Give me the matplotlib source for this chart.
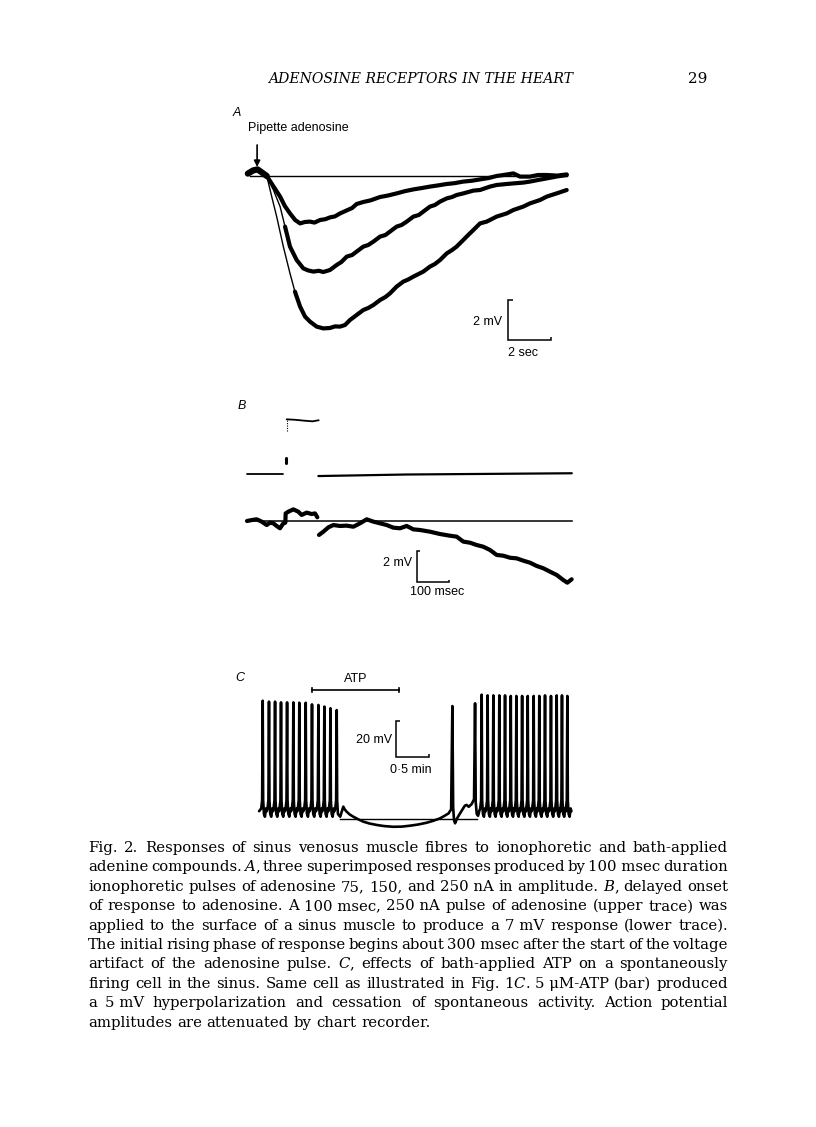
import re
import matplotlib
matplotlib.use("Agg")
import matplotlib.pyplot as plt

W, H, DPI = 816, 1127, 100

# ---------------------------------------------------------------- data
HEADER_TITLE = "ADENOSINE RECEPTORS IN THE HEART"
PAGE_NUMBER = "29"
PANEL_LABELS = ["A", "B", "C"]

# ---- Panel A: responses to 75, 150 and 250 nA pulses (time s, change mV)
A_STIM_LABEL = "Pipette adenosine"
A_STIM_T = 0.33
A_PRE = [(-0.1, 0.12), (0.15, 0.28), (0.35, 0.33), (0.55, 0.18), (0.78, 0.0)]
A_75NA = [(0.78, 0.0), (1.05, -0.45), (1.40, -1.03), (1.62, -1.5), (1.86, -1.87),
          (2.10, -2.2), (2.33, -2.37), (2.55, -2.3), (2.79, -2.28), (3.00, -2.33),
          (3.26, -2.2), (3.50, -2.16), (3.72, -2.07), (3.95, -2.02), (4.19, -1.87),
          (4.50, -1.72), (4.75, -1.6), (4.96, -1.4), (5.27, -1.3), (5.60, -1.22),
          (6.05, -1.05), (6.40, -0.98), (6.82, -0.87), (7.20, -0.76), (7.60, -0.67),
          (8.00, -0.6), (8.37, -0.53), (8.75, -0.47), (9.15, -0.4), (9.50, -0.36),
          (9.92, -0.28), (10.30, -0.24), (10.70, -0.17), (11.10, -0.1), (11.47, 0.0),
          (11.85, 0.06), (12.25, 0.13), (12.56, -0.03), (13.02, -0.03), (13.40, 0.05),
          (13.80, 0.05), (14.30, 0.02), (14.73, 0.08)]
A_150NA = [(0.78, 0.0), (1.09, -0.7), (1.40, -1.53), (1.63, -2.53), (1.86, -3.53),
           (2.17, -4.2), (2.48, -4.62), (2.70, -4.72), (2.95, -4.78), (3.20, -4.74),
           (3.41, -4.8), (3.72, -4.7), (4.03, -4.45), (4.25, -4.3), (4.50, -4.03),
           (4.75, -3.95), (4.96, -3.78), (5.27, -3.53), (5.50, -3.45), (5.74, -3.28),
           (6.05, -3.03), (6.30, -2.95), (6.51, -2.78), (6.82, -2.53), (7.05, -2.45),
           (7.29, -2.28), (7.60, -2.03), (7.85, -1.95), (8.06, -1.78), (8.37, -1.53),
           (8.60, -1.45), (8.84, -1.28), (9.15, -1.12), (9.40, -1.05), (9.61, -0.95),
           (9.92, -0.87), (10.39, -0.73), (10.70, -0.7), (11.16, -0.53), (11.47, -0.45),
           (11.94, -0.4), (12.25, -0.37), (12.71, -0.33), (13.02, -0.28), (13.40, -0.2),
           (13.80, -0.12), (14.30, -0.02), (14.73, 0.05)]
A_250NA = [(0.78, 0.0), (1.01, -1.03), (1.24, -2.03), (1.55, -3.53), (1.86, -4.87),
           (2.09, -5.78), (2.33, -6.53), (2.56, -7.03), (2.79, -7.28), (3.10, -7.53),
           (3.41, -7.62), (3.72, -7.6), (3.95, -7.52), (4.19, -7.53), (4.42, -7.45),
           (4.65, -7.2), (4.96, -6.95), (5.27, -6.7), (5.50, -6.6), (5.74, -6.45),
           (6.05, -6.2), (6.30, -6.05), (6.51, -5.87), (6.82, -5.53), (7.13, -5.28),
           (7.35, -5.18), (7.60, -5.03), (8.06, -4.78), (8.37, -4.53), (8.60, -4.4),
           (8.84, -4.2), (9.15, -3.87), (9.40, -3.7), (9.61, -3.53), (9.92, -3.2),
           (10.15, -2.95), (10.39, -2.7), (10.70, -2.37), (11.01, -2.28), (11.25, -2.15),
           (11.47, -2.03), (11.94, -1.87), (12.25, -1.7), (12.71, -1.53), (13.02, -1.37),
           (13.49, -1.2), (13.80, -1.03), (14.26, -0.87), (14.73, -0.7)]
A_THIN_UNTIL = {"75 nA": 0.0, "150 nA": 1.75, "250 nA": 2.2}
A_BAR_MV, A_BAR_SEC = 2, 2

# ---- Panel B: pulse artifact (upper) and membrane response (lower) (ms, mV)
B_UPPER_LEFT = [(0, 0.0), (113, 0.0)]
B_UPPER_TICK = [(121, 0.7), (121, 1.05)]
B_UPPER_RISE = [(124, 2.8), (124, 3.5)]
B_UPPER_PULSE = [(124, 3.53), (150, 3.5), (180, 3.44), (205, 3.4), (224, 3.47)]
B_UPPER_RIGHT = [(223, -0.13), (500, -0.03), (1015, 0.05)]
B_LOWER = [(0, 0.0), (14.6, 0.06), (30.2, 0.11), (45.8, -0.04), (61.5, -0.26),
           (71.9, -0.11), (82.3, -0.15), (92.7, -0.32), (103.1, -0.47), (113.5, -0.15),
           (119.8, -0.11), (120.8, 0.49), (129.2, 0.6), (144.8, 0.75), (160.4, 0.6),
           (170.8, 0.39), (186.5, 0.54), (202.1, 0.45), (212.5, 0.49), (219.8, 0.24),
           (225.0, -0.9), (238.5, -0.69), (254.2, -0.41), (269.8, -0.26), (290.6, -0.32),
           (311.5, -0.3), (332.3, -0.37), (353.1, -0.15), (374.0, 0.11), (394.8, -0.04),
           (415.6, -0.15), (436.5, -0.26), (457.3, -0.43), (478.1, -0.47), (499.0, -0.32),
           (519.8, -0.54), (540.6, -0.58), (571.9, -0.69), (603.1, -0.84), (634.4, -0.95),
           (655.2, -1.01), (676.0, -1.33), (696.9, -1.4), (717.7, -1.55), (738.5, -1.66),
           (759.4, -1.87), (780.2, -2.19), (801.0, -2.24), (821.9, -2.37), (842.7, -2.41),
           (863.5, -2.56), (884.4, -2.69), (905.2, -2.9), (926.0, -3.05), (946.9, -3.27),
           (967.7, -3.48), (988.5, -3.81), (1001.0, -3.98), (1014.6, -3.76)]
B_REF_T = [0, 1015]
B_BAR_MV, B_BAR_MS = 2, 100

# ---- Panel C: spontaneous firing and ATP application (s, mV)
C_START = [(-3.2, 3.0)]
C_LEFT_SPIKE_T = [0.0, 5.6, 11.0, 16.3, 21.7, 27.3, 32.6, 38.3, 43.9, 49.6, 54.9, 60.3, 65.9]
C_LEFT_SPIKE_V = [63.2, 62.7, 62.7, 62.3, 62.3, 62.3, 62.1, 62.1, 61.2, 60.9, 60.0, 59.1, 58.1]
C_MIDDLE = [(67.6, 1.0), (69.0, 0.0), (70.5, 3.0), (71.8, 5.5), (73.0, 4.0), (74.8, 2.7),
            (77.5, 1.2), (80.7, 0.0), (85.0, -1.4), (89.6, -2.7), (95.0, -3.7), (101.5, -4.5),
            (108.0, -5.1), (116.3, -5.5), (124.0, -5.4), (131.2, -4.9), (138.0, -4.3),
            (145.9, -3.3), (152.0, -2.2), (157.9, -0.9), (162.0, 0.5), (165.5, 1.8),
            (167.8, 4.0), (168.9, 60.3), (169.6, 5.0), (170.4, -2.0), (171.3, -3.6),
            (173.0, -1.0), (175.7, 1.8), (178.0, 4.0), (180.0, 6.0), (181.6, 6.4),
            (183.5, 5.4), (186.1, 6.9), (188.2, 9.5), (189.1, 61.8), (189.7, 8.0),
            (190.6, 1.5), (191.8, 0.5), (192.8, 3.0)]
C_RIGHT_SPIKE_T = [195.0, 200.3, 205.4, 210.7, 215.8, 220.9, 225.9, 231.0,
                   236.0, 241.3, 246.3, 251.4, 256.7, 261.8, 266.5, 271.3]
C_RIGHT_SPIKE_V = [66.5, 66.1, 66.1, 66.1, 66.1, 65.8, 65.8, 65.8,
                   65.8, 65.8, 65.8, 66.1, 65.8, 66.1, 66.1, 65.8]
C_SPIKE_SHAPE = [(-1.3, 4.5), (-0.5, 9.0), (0.0, None), (0.4, 9.0), (1.1, 1.5),
                 (2.0, 0.0), (2.9, 4.5), (3.6, 3.0)]
C_REF = [(68.9, -1.45), (190.5, -1.45)]
C_ATP_ON, C_ATP_OFF = 43.6, 121.4
C_BAR_MV, C_BAR_SEC = 20, 30

CAPTION = [
    "Fig. 2. Responses of sinus venosus muscle fibres to ionophoretic and bath-applied",
    "adenine compounds. _A_, three superimposed responses produced by 100~msec duration",
    "ionophoretic pulses of adenosine 75, 150, and 250~nA in amplitude. _B_, delayed onset",
    "of response to adenosine. A 100~msec, 250~nA pulse of adenosine (upper trace) was",
    "applied to the surface of a sinus muscle to produce a 7~mV response (lower trace).",
    "The initial rising phase of response begins about 300~msec after the start of the voltage",
    "artifact of the adenosine pulse. _C_, effects of bath-applied ATP on a spontaneously",
    "firing cell in the sinus. Same cell as illustrated in Fig. 1_C_. 5~\u03bcM-ATP (bar) produced",
    "a 5~mV hyperpolarization and cessation of spontaneous activity. Action potential",
    "amplitudes are attenuated by chart recorder.",
]

# ---------------------------------------------------------------- helpers
SANS = "Liberation Sans"
SERIF = "DejaVu Serif"
fig = plt.figure(figsize=(W / DPI, H / DPI), dpi=DPI)
fig.patch.set_facecolor("white")


def px_axes(box, origin, scale):
    x0, y0, x1, y1 = box
    ox, oy = origin
    sx, sy = scale
    ax = fig.add_axes([x0 / W, 1 - y1 / H, (x1 - x0) / W, (y1 - y0) / H])
    ax.set_xlim((x0 - ox) / sx, (x1 - ox) / sx)
    ax.set_ylim((oy - y1) / sy, (oy - y0) / sy)
    ax.axis("off")
    return ax


def ftext(x, y, s, **kw):
    return fig.text(x / W, 1 - y / H, s, **kw)


def unzip(pairs):
    return [p[0] for p in pairs], [p[1] for p in pairs]


def scale_bar(ax, x, y, dx, dy, lw=1.1):
    ax.plot([x + 0.12 * dx, x, x, x + dx, x + dx],
            [y + dy, y + dy, y, y, y + 0.08 * dy],
            color="k", lw=lw, solid_joinstyle="miter", solid_capstyle="butt")


TRACE = dict(color="k", solid_capstyle="round", solid_joinstyle="round")

# ---------------------------------------------------------------- header
ftext(233, 113, PANEL_LABELS[0], fontsize=9, family=SANS, style="italic", va="center")

# ---------------------------------------------------------------- panel A
axA = px_axes((235, 140, 600, 372), (250, 176), (21.5, 20))
ftext(248, 128, A_STIM_LABEL, fontsize=9, family=SANS, va="center")
axA.annotate("", xy=(A_STIM_T, 0.45), xytext=(A_STIM_T, 1.55),
             arrowprops=dict(arrowstyle="-|>", lw=1.2, color="k", mutation_scale=9,
                             shrinkA=0, shrinkB=0))
t, v = unzip(A_PRE)
axA.plot(t, v, lw=4.5, **TRACE)
axA.plot([0, 14.73], [0, 0], color="k", lw=1.0)
for name, data in (("75 nA", A_75NA), ("150 nA", A_150NA), ("250 nA", A_250NA)):
    t, v = unzip(data)
    cut = A_THIN_UNTIL[name]
    thin = [i for i, tt in enumerate(t) if tt <= cut]
    if len(thin) > 1:
        k = thin[-1]
        axA.plot(t[:k + 1], v[:k + 1], lw=1.0, **TRACE)
        axA.plot(t[k:], v[k:], lw=3.0, **TRACE)
    else:
        axA.plot(t, v, lw=3.0, **TRACE)
scale_bar(axA, 12.0, -8.2, A_BAR_SEC, A_BAR_MV)
axA.text(11.72, -7.3, f"{A_BAR_MV} mV", fontsize=9, family=SANS, ha="right", va="center")
axA.text(12.7, -8.85, f"{A_BAR_SEC} sec", fontsize=9, family=SANS, ha="center", va="center")

# ---------------------------------------------------------------- panel B
ftext(238, 406, PANEL_LABELS[1], fontsize=9, family=SANS, style="italic", va="center")
axB = px_axes((225, 395, 600, 612), (247, 521), (0.32, 15.5))
UPPER_OFFSET = 3.03
for seg, lw in ((B_UPPER_LEFT, 1.3), (B_UPPER_PULSE, 1.3), (B_UPPER_RIGHT, 1.6)):
    t, v = unzip(seg)
    axB.plot(t, [x + UPPER_OFFSET for x in v], lw=lw, **TRACE)
t, v = unzip(B_UPPER_TICK)
axB.plot(t, [x + UPPER_OFFSET for x in v], lw=2.2, color="k", solid_capstyle="round")
t, v = unzip(B_UPPER_RISE)
axB.plot(t, [x + UPPER_OFFSET for x in v], lw=0.8, color="k", ls=(0, (1, 1.2)))
axB.plot(B_REF_T, [0, 0], color="k", lw=1.1)
t, v = unzip(B_LOWER)
pulse_end = 222
i_split = next(i for i, tt in enumerate(t) if tt > pulse_end)
axB.plot(t[:i_split], v[:i_split], lw=3.0, **TRACE)
axB.plot(t[i_split:], v[i_split:], lw=3.0, **TRACE)
scale_bar(axB, 530, -3.94, B_BAR_MS, B_BAR_MV)
axB.text(515, -2.73, f"{B_BAR_MV} mV", fontsize=9, family=SANS, ha="right", va="center")
axB.text(593, -4.56, f"{B_BAR_MS} msec", fontsize=9, family=SANS, ha="center", va="center")

# ---------------------------------------------------------------- panel C
ftext(235, 678, PANEL_LABELS[2], fontsize=9, family=SANS, style="italic", va="center")
axC = px_axes((225, 668, 600, 835), (262.7, 816.7), (1.123, 1.835))


def spike_points(times, peaks, last_trunc=None):
    pts = []
    for i, (ts, pk) in enumerate(zip(times, peaks)):
        for dt, dv in C_SPIKE_SHAPE:
            if last_trunc is not None and i == len(times) - 1 and dt > last_trunc:
                continue
            pts.append((ts + dt, pk if dv is None else dv))
    return pts


trace = list(C_START)
trace += spike_points(C_LEFT_SPIKE_T, C_LEFT_SPIKE_V, last_trunc=1.1)
trace += C_MIDDLE
trace += spike_points(C_RIGHT_SPIKE_T, C_RIGHT_SPIKE_V)
t, v = unzip(trace)
axC.plot(t, v, lw=1.9, **TRACE)
t, v = unzip(C_REF)
axC.plot(t, v, color="k", lw=1.0)
# ATP bar
atp_y = 69.0
axC.plot([C_ATP_ON, C_ATP_OFF], [atp_y, atp_y], color="k", lw=1.2)
for xx in (C_ATP_ON, C_ATP_OFF):
    axC.plot([xx, xx], [atp_y - 1.0, atp_y + 1.0], color="k", lw=1.2)
axC.text((C_ATP_ON + C_ATP_OFF) / 2, atp_y + 3.0, "ATP", fontsize=9, family=SANS,
         ha="center", va="bottom")
scale_bar(axC, 118.4, 32.4, C_BAR_SEC, C_BAR_MV)
axC.text(114.9, 41.8, f"{C_BAR_MV} mV", fontsize=9, family=SANS, ha="right", va="center")
axC.text(131.8, 25.4, "0\u00b75 min", fontsize=9, family=SANS, ha="center", va="center")

# ---------------------------------------------------------------- header text
renderer = fig.canvas.get_renderer()


def width_of(s, size, family, style="normal", weight="normal"):
    tt = fig.text(0, 0, s, fontsize=size, family=family, style=style, weight=weight)
    w = tt.get_window_extent(renderer).width
    tt.remove()
    return w


title_x0, title_x1, title_base = 268, 573, 83
tsize = 11 * (title_x1 - title_x0) / width_of(HEADER_TITLE, 11, SERIF, "italic")
ftext(title_x0, title_base, HEADER_TITLE, fontsize=tsize, family=SERIF, style="italic",
      va="baseline")
ftext(707, title_base, PAGE_NUMBER, fontsize=tsize * 1.08, family=SERIF, ha="right",
      va="baseline")

# ---------------------------------------------------------------- caption (justified)
cap_x0, cap_x1 = 88, 728
cap_base0, cap_dy = 852, 19.4


def segments(word):
    out = []
    for p in re.split(r"(_[^_]+_)", word):
        if not p:
            continue
        if len(p) > 2 and p[0] == "_" and p[-1] == "_":
            out.append((p[1:-1].replace("~", " "), "italic"))
        else:
            out.append((p.replace("~", " "), "normal"))
    return out


def word_width(word, size):
    return sum(width_of(s, size, SERIF, st) for s, st in segments(word))


base = 10.0
space_b = width_of("a a", base, SERIF) - width_of("aa", base, SERIF)
nat = []
for line in CAPTION[:-1]:
    words = line.split(" ")
    nat.append(sum(word_width(w, base) for w in words) + 0.6 * space_b * (len(words) - 1))
csize = base * (cap_x1 - cap_x0) / max(nat)
space = width_of("a a", csize, SERIF) - width_of("aa", csize, SERIF)

for i, line in enumerate(CAPTION):
    y = cap_base0 + i * cap_dy
    words = line.split(" ")
    widths = [word_width(w, csize) for w in words]
    if i < len(CAPTION) - 1:
        gap = (cap_x1 - cap_x0 - sum(widths)) / (len(words) - 1)
    else:
        gap = space
    x = cap_x0
    for w, ww in zip(words, widths):
        for s, st in segments(w):
            ftext(x, y, s, fontsize=csize, family=SERIF, style=st, va="baseline")
            x += width_of(s, csize, SERIF, st)
        x += gap

fig.savefig("out.png", dpi=DPI, facecolor="white")
